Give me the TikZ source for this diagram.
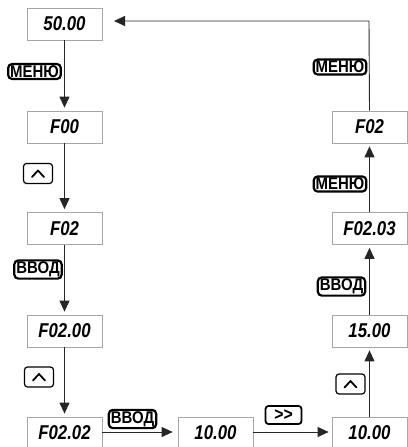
\documentclass[tikz,border=0pt]{standalone}
\usepackage{fontspec}
\setmainfont{Liberation Sans}
\newfontfamily\lcdfont[FakeStretch=0.84]{Liberation Sans}
\newfontfamily\keyfont[FakeStretch=0.88]{Liberation Sans}
\usetikzlibrary{arrows.meta}
\begin{document}
\begin{tikzpicture}[x=1pt,y=-1pt,
  disp/.style={draw=black!35,line width=0.7pt,minimum width=75pt,minimum height=32pt,inner sep=0pt,
    font=\lcdfont\bfseries\itshape\fontsize{20}{20}\selectfont},
  keybig/.style={draw=black,line width=2.2pt,rounded corners=4pt,inner xsep=2pt,inner ysep=1.5pt,
    font=\keyfont\bfseries\fontsize{17}{17}\selectfont},
  keyup/.style={draw=black,line width=1.2pt,rounded corners=3pt,minimum width=29pt,minimum height=20pt,inner sep=0pt},
  keyshift/.style={draw=black,line width=1.8pt,rounded corners=3pt,minimum width=36pt,minimum height=18pt,inner sep=0pt,
    font=\keyfont\bfseries\fontsize{18}{18}\selectfont},
  chev/.style={draw=black,line width=1.8pt,line cap=round,line join=round},
  flow/.style={draw=black!85,line width=0.9pt,-{Triangle[width=10pt,length=11pt]},shorten >=3pt}
]
\useasboundingbox (0,0) rectangle (407,447);
% display boxes
\node[disp] (a) at (64.5,24) {50.00};
\node[disp] (b) at (64.5,127) {F00};
\node[disp] (c) at (64.5,228.5) {F02};
\node[disp] (d) at (64.5,331) {F02.00};
\node[disp] (e) at (64.5,433) {F02.02};
\node[disp] (f) at (215.5,433) {10.00};
\node[disp] (g) at (369.5,433) {10.00};
\node[disp] (h) at (369.5,331) {15.00};
\node[disp] (i) at (369.5,228.5) {F02.03};
\node[disp] (j) at (369.5,127) {F02};
% key labels
\node[keybig] (k1) at (34.5,71.5) {МЕНЮ};
\node[keyup] (k2) at (38,173.5) {};
\node[keybig] (k3) at (38,269.5) {ВВОД};
\node[keyup] (k4) at (39,377) {};
\node[keybig] (k5) at (132.5,419) {ВВОД};
\node[keyshift] (k6) at (283.5,415) {\textgreater\textgreater};
\node[keyup] (k7) at (350.5,384) {};
\node[keybig] (k8) at (341.5,286.5) {ВВОД};
\node[keybig] (k9) at (340,184) {МЕНЮ};
\node[keybig] (k10) at (340,67) {МЕНЮ};
\foreach \k in {k2,k4,k7}{
  \draw[chev] ([shift={(-6,3.5)}]\k.center) -- ([shift={(0,-3)}]\k.center) -- ([shift={(6,3.5)}]\k.center);
}
% connectors
\draw[flow] (a.south) -- (b.north);
\draw[flow] (b.south) -- (c.north);
\draw[flow] (c.south) -- (d.north);
\draw[flow] (d.south) -- (e.north);
\draw[flow,shorten >=5pt] (e.east |- 0,432) -- (f.west |- 0,432);
\draw[flow] (f.east |- 0,432) -- (g.west |- 0,432);
\draw[flow] (g.north) -- (h.south);
\draw[flow] (h.north) -- (i.south);
\draw[flow] (i.north) -- (j.south);
\coordinate (tr) at (369,21);
\coordinate (tl) at (114,21);
\draw[flow,shorten >=0pt] (j.north) -- (tr) -- (tl);
\end{tikzpicture}
\end{document}
